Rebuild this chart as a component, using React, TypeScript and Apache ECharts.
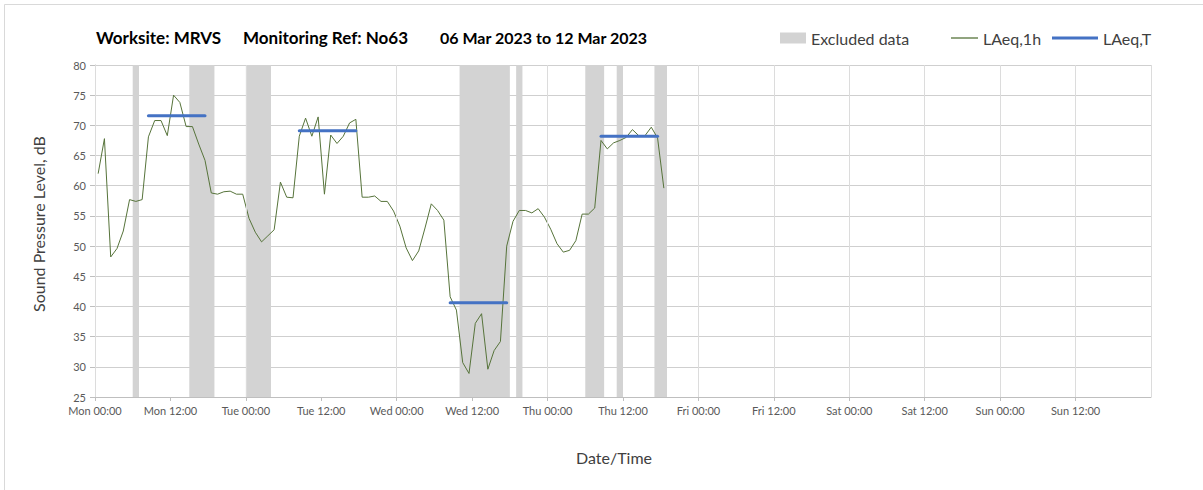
import React, { useEffect, useRef } from "react";
import * as echarts from "echarts";

// Hourly LAeq,1h values (dB), first value plotted half an hour after Mon 00:00
const FIRST_HOUR = 0.5;
const LAEQ_1H = [
  62.0, 67.8, 48.2, 49.6, 52.5, 57.7, 57.4, 57.7, 68.1, 70.8,
  70.8, 68.3, 75.0, 73.8, 69.8, 69.8, 66.9, 64.2, 58.8, 58.6,
  59.0, 59.1, 58.6, 58.6, 54.6, 52.3, 50.7, 51.7, 52.7, 60.6,
  58.1, 58.0, 68.2, 71.2, 68.2, 71.4, 58.6, 68.4, 67.0, 68.2,
  70.4, 71.0, 58.1, 58.1, 58.3, 57.4, 57.4, 55.8, 53.3, 49.7,
  47.6, 49.2, 53.0, 57.0, 55.9, 54.3, 41.6, 39.4, 30.7, 28.9,
  37.2, 38.8, 29.6, 32.7, 34.2, 50.0, 54.1, 55.9, 55.9, 55.5,
  56.2, 54.8, 52.8, 50.4, 49.0, 49.3, 50.9, 55.3, 55.3, 56.3,
  67.5, 66.1, 67.1, 67.5, 68.0, 69.3, 68.3, 68.3, 69.7, 67.9,
  59.6,
];

// LAeq,T periods: start hour, end hour, level
const LAEQ_T_START = [8.5, 32.5, 56.5, 80.5];
const LAEQ_T_END = [17.5, 41.5, 65.5, 89.5];
const LAEQ_T_VALUE = [71.6, 69.1, 40.6, 68.2];

// Excluded data periods (hours from Mon 00:00)
const EXCLUDED_START = [6, 15, 24, 58, 67, 78, 83, 89];
const EXCLUDED_END = [7, 19, 28, 66, 68, 81, 84, 91];

const TICK_LABELS = [
  "Mon 00:00", "Mon 12:00", "Tue 00:00", "Tue 12:00", "Wed 00:00", "Wed 12:00",
  "Thu 00:00", "Thu 12:00", "Fri 00:00", "Fri 12:00", "Sat 00:00", "Sat 12:00",
  "Sun 00:00", "Sun 12:00", "Mon 00:00",
];
// vertical gridlines: every midnight, plus 12:00 after the data ends
const GRID_HOURS = [0, 24, 48, 72, 96, 120, 144, 168, 108, 132, 156];

const TITLE_PARTS = ["Worksite: MRVS", "Monitoring Ref: No63", "06 Mar 2023 to 12 Mar 2023"];

const FONT = "Lato, 'Open Sans', sans-serif";
const GREEN = "#56733A";
const BLUE = "#4472C4";
const GREY = "#d3d3d3";

export default function App() {
  const ref = useRef<HTMLDivElement>(null);

  useEffect(() => {
    if (!ref.current) return;
    const chart = echarts.init(ref.current, undefined, { renderer: "svg" });

    const lineData = LAEQ_1H.map((v, i) => [FIRST_HOUR + i, v]);
    const tSeries = LAEQ_T_VALUE.map((v, i) => ({
      name: "LAeq,T",
      type: "line",
      data: [
        [LAEQ_T_START[i], v],
        [LAEQ_T_END[i], v],
      ],
      symbol: "none",
      lineStyle: { color: BLUE, width: 3, cap: "round" },
      itemStyle: { color: BLUE },
      z: 4,
    }));

    const titleText = (x: number, text: string, size: number) => ({
      type: "text",
      x,
      y: 37,
      style: { text, font: `bold ${size}px ${FONT}`, fill: "#000", textVerticalAlign: "middle" },
    });

    const legendText = { fontSize: 16, color: "#404040", fontFamily: FONT };

    const option: any = {
      animation: false,
      backgroundColor: "#ffffff",
      textStyle: { fontFamily: FONT },
      grid: { left: 95, top: 65, width: 1056, height: 332, show: false },
      graphic: [
        {
          type: "rect",
          shape: { x: 4.5, y: 4.5, width: 1300, height: 600 },
          style: { fill: "none", stroke: "#d9d9d9", lineWidth: 1 },
          silent: true,
        },
        titleText(96, TITLE_PARTS[0], 17),
        titleText(243, TITLE_PARTS[1], 17),
        titleText(440, TITLE_PARTS[2], 16),
        {
          type: "text",
          x: 614,
          y: 457,
          style: {
            text: "Date/Time",
            font: `16px ${FONT}`,
            fill: "#404040",
            textAlign: "center",
            textVerticalAlign: "middle",
          },
        },
        {
          type: "text",
          x: 38,
          y: 224,
          rotation: Math.PI / 2,
          style: {
            text: "Sound Pressure Level, dB",
            font: `16px ${FONT}`,
            fill: "#404040",
            textAlign: "center",
            textVerticalAlign: "middle",
          },
        },
      ],
      legend: [
        {
          left: 775,
          top: 25,
          itemWidth: 26,
          itemHeight: 11,
          textStyle: legendText,
          data: [{ name: "Excluded data", icon: "rect", itemStyle: { color: GREY } }],
          selectedMode: false,
        },
        {
          left: 946,
          top: 25,
          itemWidth: 27,
          itemHeight: 1.3,
          textStyle: legendText,
          data: [{ name: "LAeq,1h", icon: "rect", itemStyle: { color: GREEN } }],
          selectedMode: false,
        },
        {
          left: 1047,
          top: 25,
          itemWidth: 46,
          itemHeight: 3,
          textStyle: legendText,
          data: [{ name: "LAeq,T", icon: "rect", itemStyle: { color: BLUE } }],
          selectedMode: false,
        },
      ],
      xAxis: {
        type: "value",
        min: 0,
        max: 168,
        interval: 12,
        axisLine: { show: true, lineStyle: { color: "#bfbfbf" } },
        axisTick: { show: true, length: 4, lineStyle: { color: "#bfbfbf" } },
        axisLabel: {
          fontSize: 11,
          color: "#595959",
          margin: 8,
          showMaxLabel: false,
          formatter: (v: number) => TICK_LABELS[Math.round(v / 12)],
        },
        splitLine: { show: false },
      },
      yAxis: {
        type: "value",
        min: 25,
        max: 80,
        interval: 5,
        axisLine: { show: true, lineStyle: { color: "#bfbfbf" } },
        axisTick: { show: true, length: 5, lineStyle: { color: "#bfbfbf" } },
        axisLabel: { fontSize: 11, color: "#595959", margin: 9 },
        splitLine: { show: true, lineStyle: { color: "#cfcfcf" } },
      },
      series: [
        {
          name: "Excluded data",
          type: "line",
          data: [],
          itemStyle: { color: GREY },
          markArea: {
            silent: true,
            itemStyle: { color: GREY },
            data: EXCLUDED_START.map((s, i) => [{ xAxis: s }, { xAxis: EXCLUDED_END[i] }]),
          },
          z: 1,
        },
        {
          name: "Gridlines",
          type: "line",
          data: [],
          markLine: {
            silent: true,
            symbol: "none",
            label: { show: false },
            lineStyle: { color: "#dcdcdc", type: "solid", width: 1 },
            data: GRID_HOURS.map((h) => ({ xAxis: h })),
          },
          z: 0,
        },
        {
          name: "LAeq,1h",
          type: "line",
          data: lineData,
          symbol: "none",
          lineStyle: { color: GREEN, width: 1 },
          itemStyle: { color: GREEN },
          z: 3,
        },
        ...tSeries,
      ],
    };

    chart.setOption(option);
    return () => chart.dispose();
  }, []);

  return (
    <div
      ref={ref}
      style={{ position: "absolute", left: 0, top: 0, width: 1203, height: 490 }}
    />
  );
}
